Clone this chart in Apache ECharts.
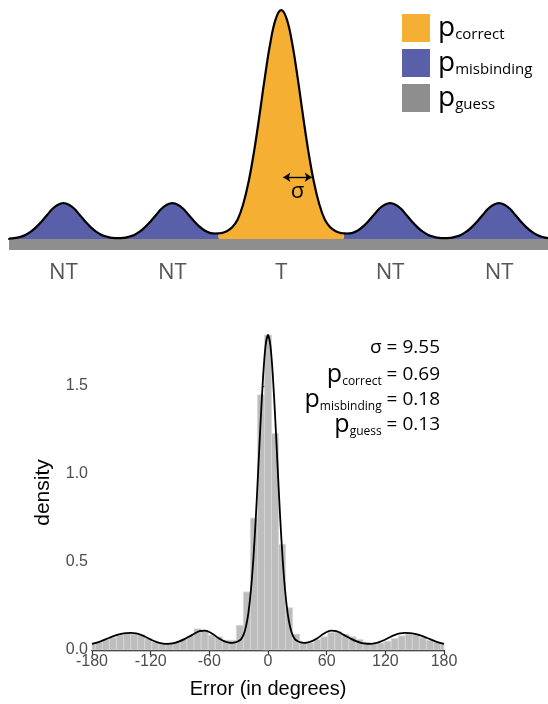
<!DOCTYPE html>
<html><head><meta charset="utf-8">
<script src="https://cdn.jsdelivr.net/npm/echarts@6/dist/echarts.min.js"></script>
<style>html,body{margin:0;padding:0;background:#fff}#c{width:548px;height:704px}</style>
</head><body><div id="c"></div>
<script>
// ---------- top schematic (x in arbitrary units, T at 0) ----------
const schemX = [-250,-245,-240,-235,-230,-225,-220,-215,-210,-205,-200,-195,-190,-185,-180,-175,-170,-165,-160,-155,-150,-145,-140,-135,-130,-125,-120,-115,-110,-105,-100,-95,-90,-85,-80,-75,-70,-65,-60,-57.5,-55,-50,-45,-40,-35,-30,-25,-20,-15,-10,-5,0,5,10,15,20,25,30,35,40,45,50,55,57.5,60,65,70,75,80,85,90,95,100,105,110,115,120,125,130,135,140,145,150,155,160,165,170,175,180,185,190,195,200,205,210,215,220,225,230,235,240,245];
const schemY = [0.002,0.004,0.009,0.018,0.032,0.052,0.077,0.105,0.132,0.150,0.157,0.150,0.132,0.105,0.077,0.052,0.032,0.018,0.010,0.005,0.004,0.005,0.010,0.018,0.032,0.052,0.077,0.105,0.132,0.150,0.157,0.150,0.132,0.105,0.078,0.054,0.036,0.026,0.024,0.025,0.026,0.034,0.051,0.085,0.151,0.249,0.381,0.539,0.707,0.857,0.962,1.000,0.962,0.857,0.707,0.539,0.381,0.249,0.151,0.085,0.051,0.034,0.026,0.025,0.024,0.026,0.036,0.054,0.078,0.105,0.132,0.150,0.157,0.150,0.132,0.105,0.077,0.052,0.032,0.018,0.010,0.005,0.004,0.005,0.010,0.018,0.032,0.052,0.077,0.105,0.132,0.150,0.157,0.150,0.132,0.105,0.077,0.052,0.032,0.018,0.009,0.004];
const targetRange = [-57.5, 57.5];
const itemPositions = [-200, -100, 0, 100, 200];
const itemLabels = ['NT', 'NT', 'T', 'NT', 'NT'];
const guessBand = [[-250, 0], [245, 0]];
const legendNames = ['correct', 'misbinding', 'guess'];

// ---------- bottom: histogram + fitted density ----------
const binWidth = 7.2;   // bins centred on -180, -172.8, ..., 0, ..., 180
const histDensity = [0.040,0.045,0.060,0.070,0.085,0.095,0.090,0.085,0.065,0.045,0.035,0.040,0.045,0.060,0.080,0.120,0.110,0.085,0.075,0.055,0.055,0.140,0.330,0.750,1.450,1.790,1.230,0.600,0.240,0.090,0.045,0.040,0.060,0.075,0.100,0.105,0.090,0.075,0.060,0.045,0.035,0.040,0.050,0.065,0.080,0.090,0.085,0.070,0.055,0.045,0.035];
const curveX = [-180,-175,-170,-165,-160,-155,-150,-145,-140,-135,-130,-125,-120,-115,-110,-105,-100,-95,-90,-85,-80,-75,-70,-65,-60,-55,-50,-45,-40,-37.5,-35,-32.5,-30,-27.5,-25,-22.5,-20,-17.5,-15,-12.5,-10,-7.5,-5,-2.5,0,2.5,5,7.5,10,12.5,15,17.5,20,22.5,25,27.5,30,32.5,35,37.5,40,45,50,55,60,65,70,75,80,85,90,95,100,105,110,115,120,125,130,135,140,145,150,155,160,165,170,175,180];
const curveY = [0.035,0.042,0.052,0.063,0.075,0.085,0.092,0.096,0.097,0.094,0.086,0.074,0.060,0.048,0.039,0.035,0.036,0.041,0.050,0.063,0.078,0.094,0.107,0.110,0.102,0.085,0.065,0.050,0.042,0.041,0.042,0.045,0.051,0.062,0.087,0.134,0.213,0.338,0.516,0.749,1.022,1.304,1.555,1.728,1.790,1.728,1.555,1.304,1.022,0.749,0.516,0.338,0.213,0.134,0.087,0.062,0.051,0.045,0.042,0.041,0.042,0.050,0.065,0.085,0.102,0.110,0.107,0.094,0.078,0.063,0.050,0.041,0.036,0.035,0.039,0.048,0.060,0.074,0.086,0.094,0.097,0.096,0.092,0.085,0.075,0.063,0.052,0.042,0.035];
const yTicks = [0, 0.5, 1.0, 1.5];
const paramNames = ['correct', 'misbinding', 'guess'];
const sigmaValue = '9.55';
const paramValues = ['0.69', '0.18', '0.13'];

// ---------- build ----------
const C_ORANGE = '#F5AF33', C_BLUE = '#5960A9', C_GRAY = '#8E8E8E';
const inT = x => x >= targetRange[0] && x <= targetRange[1];
const outT = x => x <= targetRange[0] || x >= targetRange[1];
const orangeData = schemX.map((x, i) => [x, inT(x) ? schemY[i] : null]);
const blueData = schemX.map((x, i) => [x, outT(x) ? schemY[i] : null]);
const totalData = schemX.map((x, i) => [x, schemY[i]]);
const histData = histDensity.map((d, i) => [-180 + i * binWidth, d]);
const curveData = curveX.map((x, i) => [x, curveY[i]]);

const SANS = '"Open Sans", "Noto Sans", sans-serif';
const ARIAL = '"Liberation Sans", Arial, sans-serif';

const chart = echarts.init(document.getElementById('c'), null, {renderer: 'canvas'});

const annRich = {
  p: {fontFamily: SANS, fontSize: 25, color: '#000', lineHeight: 26},
  s: {fontFamily: SANS, fontSize: 12, color: '#000', lineHeight: 12, verticalAlign: 'bottom'},
  v: {fontFamily: SANS, fontSize: 19, color: '#000', lineHeight: 26}
};
const annLines = [
  {text: '{v|σ = ' + sigmaValue + '}', y: 348},
  {text: '{p|p}{s|' + paramNames[0] + '}{v| = ' + paramValues[0] + '}', y: 375},
  {text: '{p|p}{s|' + paramNames[1] + '}{v| = ' + paramValues[1] + '}', y: 400},
  {text: '{p|p}{s|' + paramNames[2] + '}{v| = ' + paramValues[2] + '}', y: 425}
];

chart.setOption({
  animation: false,
  backgroundColor: '#fff',
  grid: [
    {left: 9, right: 0, top: 1, height: 249, containLabel: false, outerBoundsMode: 'none'},
    {left: 92, right: 104, top: 335, bottom: 54, containLabel: false, outerBoundsMode: 'none'}
  ],
  legend: {
    orient: 'vertical', left: 397, top: 9, itemWidth: 28, itemHeight: 28, itemGap: 7,
    icon: 'rect', selectedMode: false, data: legendNames,
    formatter: n => '{p|p}{s|' + n + '}',
    textStyle: {
      rich: {
        p: {fontFamily: SANS, fontSize: 28, color: '#000', lineHeight: 28, padding: [0, 0, 0, 3]},
        s: {fontFamily: SANS, fontSize: 15, color: '#000', lineHeight: 14, verticalAlign: 'bottom'}
      }
    }
  },
  xAxis: [
    {
      gridIndex: 0, type: 'value', min: -250, max: 245,
      axisLine: {lineStyle: {color: '#000', width: 2}},
      axisTick: {customValues: itemPositions, length: 6, lineStyle: {color: '#444', width: 2}},
      axisLabel: {customValues: itemPositions, formatter: v => itemLabels[itemPositions.indexOf(v)],
        fontFamily: SANS, fontSize: 22, color: '#555', margin: 12},
      splitLine: {show: false}
    },
    {
      gridIndex: 1, type: 'value', min: -180, max: 180, interval: 60,
      axisLine: {lineStyle: {color: '#000', width: 1.3}},
      axisTick: {length: 5, lineStyle: {color: '#333', width: 1.2}},
      axisLabel: {fontFamily: ARIAL, fontSize: 16, color: '#4d4d4d', margin: 4},
      splitLine: {show: false},
      name: 'Error (in degrees)', nameLocation: 'middle', nameGap: 29,
      nameTextStyle: {fontFamily: ARIAL, fontSize: 20, color: '#000'}
    }
  ],
  yAxis: [
    {gridIndex: 0, type: 'value', min: -0.048, max: 1.04, show: false},
    {
      gridIndex: 1, type: 'value', min: 0, max: 1.79,
      axisLine: {show: true, lineStyle: {color: '#000', width: 1.3}},
      axisTick: {show: true, customValues: yTicks, length: 5, lineStyle: {color: '#333', width: 1.2}},
      axisLabel: {customValues: yTicks, formatter: v => v.toFixed(1), fontFamily: ARIAL, fontSize: 16, color: '#4d4d4d', margin: 4},
      splitLine: {show: false},
      name: 'density', nameLocation: 'middle', nameGap: 38, nameRotate: 90,
      nameTextStyle: {fontFamily: ARIAL, fontSize: 21, color: '#000'}
    }
  ],
  series: [
    {
      name: 'guess', type: 'line', xAxisIndex: 0, yAxisIndex: 0, data: guessBand,
      showSymbol: false, lineStyle: {width: 0}, itemStyle: {color: C_GRAY},
      areaStyle: {color: C_GRAY, opacity: 1, origin: 'start'}, z: 1, silent: true
    },
    {
      name: 'misbinding', type: 'line', xAxisIndex: 0, yAxisIndex: 0, data: blueData,
      smooth: 0.4, showSymbol: false, connectNulls: false, lineStyle: {width: 0}, itemStyle: {color: C_BLUE},
      areaStyle: {color: C_BLUE, opacity: 1}, z: 2, silent: true
    },
    {
      name: 'correct', type: 'line', xAxisIndex: 0, yAxisIndex: 0, data: orangeData,
      smooth: 0.4, showSymbol: false, connectNulls: false, lineStyle: {width: 0}, itemStyle: {color: C_ORANGE},
      areaStyle: {color: C_ORANGE, opacity: 1}, z: 2, silent: true
    },
    {
      name: 'outline', type: 'line', xAxisIndex: 0, yAxisIndex: 0, data: totalData,
      smooth: 0.4, showSymbol: false, lineStyle: {color: '#000', width: 2.2}, itemStyle: {color: '#000'},
      z: 3, silent: true, clip: false,
      markLine: {
        silent: true, symbol: ['arrow', 'arrow'], symbolSize: [7, 7],
        lineStyle: {color: '#000', width: 1.4, type: 'solid'},
        label: {show: true, formatter: 'σ', position: 'insideMiddleBottom', distance: 4,
          fontFamily: SANS, fontSize: 22, color: '#000'},
        data: [[{coord: [2, 0.27]}, {coord: [28, 0.27]}]]
      }
    },
    {
      name: 'hist', type: 'custom', xAxisIndex: 1, yAxisIndex: 1, data: histData,
      encode: {x: 0, y: 1}, silent: true, z: 2,
      renderItem: (params, api) => {
        const c = api.value(0), h = api.value(1);
        const p0 = api.coord([c - binWidth / 2, h]);
        const p1 = api.coord([c + binWidth / 2, 0]);
        const cs = params.coordSys;
        const r = echarts.graphic.clipRectByRect(
          {x: p0[0], y: p0[1], width: p1[0] - p0[0], height: p1[1] - p0[1]},
          {x: cs.x, y: cs.y, width: cs.width, height: cs.height});
        if (!r) return null;
        return {type: 'rect', shape: r, style: {fill: '#bdbdbd', stroke: '#d8d8d8', lineWidth: 0.7}};
      }
    },
    {
      name: 'fit', type: 'line', xAxisIndex: 1, yAxisIndex: 1, data: curveData,
      smooth: 0.3, showSymbol: false, lineStyle: {color: '#000', width: 1.8}, z: 3, silent: true
    }
  ],
  graphic: annLines.map(l => ({
    type: 'text', x: 440, y: l.y, silent: true,
    style: {text: l.text, align: 'right', verticalAlign: 'middle', rich: annRich}
  }))
});
</script></body></html>
